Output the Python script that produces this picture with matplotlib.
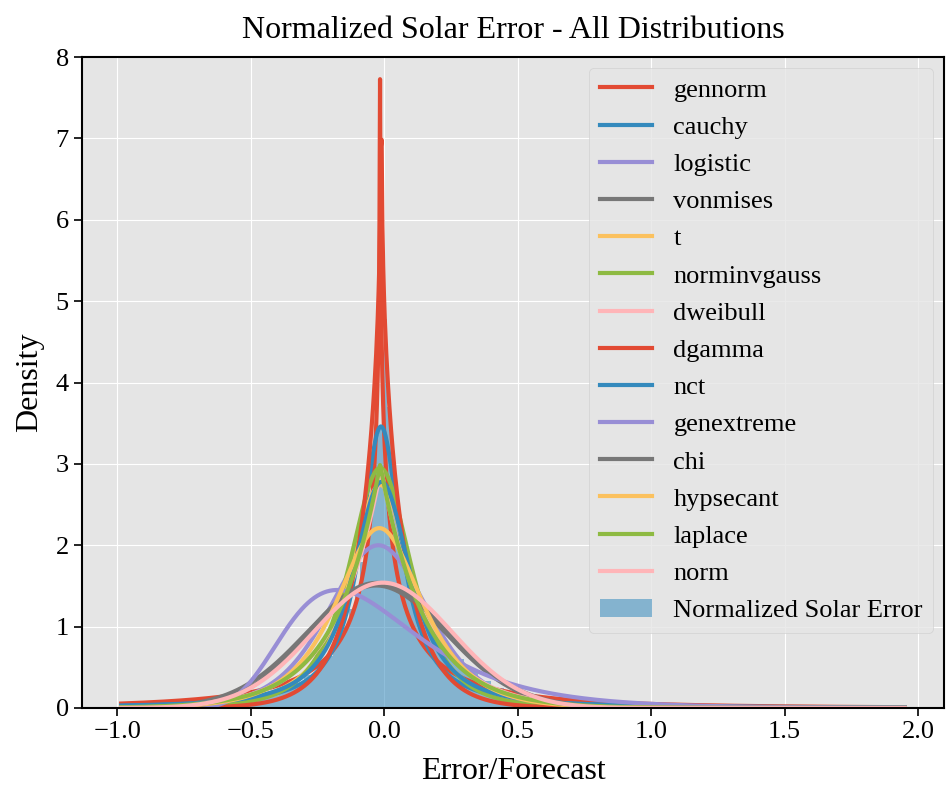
import math
import numpy as np
import matplotlib
matplotlib.use("Agg")
import matplotlib.pyplot as plt

plt.style.use("ggplot")
plt.rcParams["font.family"] = ["Liberation Serif", "DejaVu Serif"]

# histogram of normalized solar error (bin edges and density)
hist_edges = [-0.985, -0.9, -0.8, -0.7, -0.6, -0.5, -0.45, -0.4, -0.35, -0.3, -0.25,
              -0.22, -0.19, -0.16, -0.13, -0.11, -0.09, -0.07, -0.05, -0.04, -0.03,
              -0.02, -0.01, 0.0, 0.01, 0.02, 0.03, 0.04, 0.05, 0.07, 0.09, 0.11,
              0.14, 0.17, 0.20, 0.25, 0.30, 0.35, 0.40, 0.45, 0.50, 0.60, 0.70,
              0.85, 1.0, 1.3, 1.6, 1.95]
hist_density = [0.04, 0.045, 0.06, 0.08, 0.11, 0.15, 0.19, 0.24, 0.31, 0.40,
                0.52, 0.64, 0.80, 1.00, 1.22, 1.45, 1.80, 2.35, 2.90, 3.20,
                3.35, 3.45, 3.55, 4.78, 3.70, 3.32, 2.90, 2.60, 2.30, 1.90,
                1.60, 1.30, 1.05, 0.92, 0.78, 0.60, 0.45, 0.33, 0.24, 0.17,
                0.11, 0.075, 0.06, 0.05, 0.045, 0.04, 0.035]

# fitted distributions: name, shape parameters, loc, scale
dist_names = ["gennorm", "cauchy", "logistic", "vonmises", "t", "norminvgauss",
              "dweibull", "dgamma", "nct", "genextreme", "chi", "hypsecant",
              "laplace", "norm"]
dist_shapes = [(0.42,), (), (), (14.5,), (2.0,), (0.8,), (1.0,), (0.88,), (1.5,),
               (-0.05,), (30,), (), (), ()]
dist_locs = [-0.0155, -0.012, -0.022, -0.03, -0.015, -0.015, -0.012, -0.011, -0.01,
             -0.164, -2.01, -0.018, -0.015, -0.005]
dist_scales = [0.021, 0.092, 0.125, 1.0, 0.129, 0.1656, 0.17, 0.11, 0.1226,
               0.254, 0.368, 0.144, 0.167, 0.259]


def k1(v):
    t = np.linspace(0, 10, 3000)
    vals = np.exp(-np.outer(v, np.cosh(t))) * np.cosh(t)
    return np.trapezoid(vals, t, axis=1)


def pdf(name, shp, loc, scale, x):
    z = (x - loc) / scale
    if name == "gennorm":
        b = shp[0]
        return b / (2 * math.gamma(1 / b)) * np.exp(-np.abs(z) ** b) / scale
    if name == "cauchy":
        return 1 / (np.pi * (1 + z ** 2)) / scale
    if name == "logistic":
        return np.exp(-z) / (1 + np.exp(-z)) ** 2 / scale
    if name == "vonmises":
        k = shp[0]
        return np.exp(k * (np.cos(z) - 1)) / (2 * np.pi * np.i0(k) * np.exp(-k)) / scale
    if name in ("t", "nct"):
        n = shp[0]
        c = math.gamma((n + 1) / 2) / (math.sqrt(n * np.pi) * math.gamma(n / 2))
        return c * (1 + z ** 2 / n) ** (-(n + 1) / 2) / scale
    if name == "norminvgauss":
        a = shp[0]
        r = np.sqrt(1 + z ** 2)
        return a * k1(a * r) / (np.pi * r) * np.exp(a) / scale
    if name == "dweibull":
        c = shp[0]
        az = np.abs(z)
        return c / 2 * az ** (c - 1) * np.exp(-az ** c) / scale
    if name == "dgamma":
        a = shp[0]
        az = np.abs(z)
        return az ** (a - 1) * np.exp(-az) / (2 * math.gamma(a)) / scale
    if name == "genextreme":
        c = shp[0]
        u = 1 - c * z
        return np.exp(-u ** (1 / c)) * u ** (1 / c - 1) / scale
    if name == "chi":
        k = shp[0]
        lp = (k - 1) * np.log(z) - z ** 2 / 2 - (k / 2 - 1) * math.log(2) - math.lgamma(k / 2)
        return np.exp(lp) / scale
    if name == "hypsecant":
        return 1 / (np.pi * np.cosh(z)) / scale
    if name == "laplace":
        return 0.5 * np.exp(-np.abs(z)) / scale
    return np.exp(-z ** 2 / 2) / np.sqrt(2 * np.pi) / scale


fig = plt.figure(figsize=(9.47, 7.87), dpi=100)
ax = fig.add_axes([82 / 947, 79 / 787, 862 / 947, 651 / 787])

x = np.linspace(hist_edges[0], hist_edges[-1], 1000)
for name, shp, loc, sc in zip(dist_names, dist_shapes, dist_locs, dist_scales):
    ax.plot(x, pdf(name, shp, loc, sc, x), lw=3, label=name, zorder=2)

centers = [(a + b) / 2 for a, b in zip(hist_edges[:-1], hist_edges[1:])]
ax.hist(centers, bins=hist_edges, weights=hist_density, color="#348ABD", alpha=0.55,
        label="Normalized Solar Error", zorder=1)

ax.set_ylim(0, 8)
ax.set_title("Normalized Solar Error - All Distributions", fontsize=23, color="black", pad=14)
ax.set_xlabel("Error/Forecast", fontsize=23, color="black", labelpad=10)
ax.set_ylabel("Density", fontsize=23, color="black", labelpad=8)
ax.tick_params(labelsize=19, colors="black", length=6, width=1.2)
for s in ax.spines.values():
    s.set_visible(True)
    s.set_color("black")
    s.set_linewidth(1.5)
ax.legend(loc="upper right", fontsize=19, labelspacing=0.52, facecolor="#E5E5E5",
          borderaxespad=0.4)

fig.savefig("out.png", dpi=100)
